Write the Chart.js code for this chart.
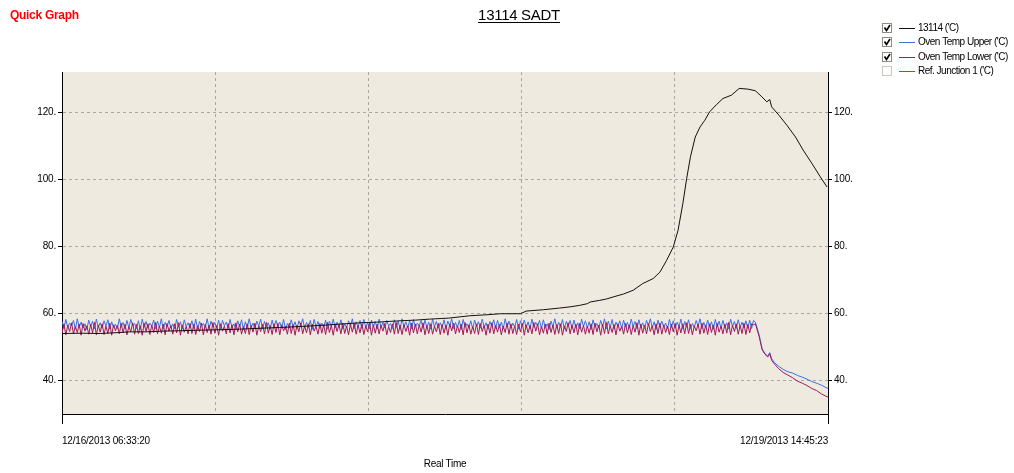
<!DOCTYPE html>
<html>
<head>
<meta charset="utf-8">
<title>13114 SADT</title>
<script src="https://cdn.jsdelivr.net/npm/chart.js@4/dist/chart.umd.min.js"></script>
<style>
  html, body { margin: 0; padding: 0; background: #ffffff; }
  canvas { display: block; }
</style>
</head>
<body>
<canvas id="quickGraph" width="1014" height="473"></canvas>
<script>
// Series names, as in the legend
const seriesNames = ["13114 ('C)", "Oven Temp Upper ('C)", "Oven Temp Lower ('C)", "Ref. Junction 1 ('C)"];
const seriesShown = [true, true, true, false];
const seriesColors = ['#111111', '#3f6ee8', '#a01a5e', '#ff2020'];

// Time axis (hours since start of run) and its two end labels
const startLabel = '12/16/2013 06:33:20';
const endLabel = '12/19/2013 14:45:23';
const runHours = 80.2;

// Y axis tick values
const yTicks = [40, 60, 80, 100, 120];

// 13114 sample temperature
const blackTimes = [
  0, 2, 4, 6, 7.1, 9, 10.3, 12, 14.4, 16,
  18.6, 21, 22.8, 25, 27, 29, 31.2, 33, 35.4, 37,
  38.5, 40.5, 42.7, 44.5, 45.9, 48.0, 48.6, 50.4, 52.1, 53.3,
  54.2, 55.0, 55.3, 56.3, 57.0, 57.7, 58.8, 59.8, 60.8, 61.9,
  62.6, 63.3, 64.0, 64.5, 65.0, 65.4, 65.8, 66.3, 66.8, 67.3,
  67.8, 68.5, 69.2, 70.1, 70.9, 71.8, 72.6, 73.2, 73.8, 74.1,
  74.3, 75.1, 75.9, 76.8, 77.6, 78.5, 79.4, 80.1
];
const blackValues = [
  54.0, 54.1, 54.0, 54.3, 54.5, 54.5, 54.7, 54.8, 55.0, 55.1,
  55.3, 55.6, 55.8, 56.1, 56.4, 56.8, 57.2, 57.4, 57.8, 58.0,
  58.3, 58.6, 59.3, 59.6, 59.9, 59.9, 60.7, 61.1, 61.6, 62.0,
  62.4, 62.9, 63.4, 63.9, 64.3, 64.9, 65.8, 66.9, 68.9, 70.4,
  72.3, 75.8, 79.8, 84.8, 92.7, 100.2, 106.7, 112.6, 115.6, 117.6,
  120.1, 122.2, 124.1, 125.1, 127.1, 126.9, 126.4, 124.8, 123.1, 123.8,
  121.6, 119.0, 116.1, 112.6, 108.7, 104.8, 100.7, 97.7
];

// Oven temps while the oven is holding (one logged sample every logInterval hours)
const logInterval = 0.2;
const upperPlateau = [
  57.6, 55.5, 58.2, 55.9, 57.1, 56.3, 57.9, 55.3, 58.4, 55.8, 57.4, 55.6, 56.9, 55.2, 58.0, 56.1, 57.7, 55.4, 58.3, 55.9,
  57.2, 55.6, 57.8, 56.2, 58.1, 55.3, 57.5, 55.8, 56.8, 55.5, 58.4, 56.0, 57.3, 55.4, 57.9, 55.7, 58.2, 56.3, 57.0, 55.5,
  57.8, 55.2, 58.3, 55.9, 57.6, 55.6, 57.1, 56.2, 58.0, 55.4, 57.7, 55.8, 58.4, 55.3, 57.3, 56.0, 57.9, 55.6, 56.9, 55.4,
  58.2, 55.9, 57.5, 55.3, 58.1, 56.1, 57.2, 55.7, 57.8, 55.5, 58.3, 55.2, 57.6, 56.2, 57.0, 55.8, 58.4, 55.4, 57.7, 55.9,
  57.3, 55.6, 58.0, 55.3, 57.9, 56.3, 57.4, 55.5, 58.2, 55.8, 56.9, 55.4, 57.8, 56.0, 58.1, 55.2, 57.5, 55.7, 58.4, 55.9,
  57.1, 55.5, 57.7, 56.2, 58.3, 55.4, 57.6, 55.9, 57.2, 55.3, 58.0, 55.8, 57.9, 56.1, 57.4, 55.6, 58.2, 55.2, 57.0, 55.7,
  58.1, 55.9, 57.5, 55.4, 57.8, 56.3, 58.4, 55.6, 57.3, 55.8, 57.9, 55.2, 58.2, 56.0, 57.6, 55.5, 57.1, 55.9, 58.0, 55.3,
  57.7, 56.1, 58.3, 55.6, 57.4, 55.8, 58.1, 55.3, 56.9, 55.7, 57.8, 56.2, 58.4, 55.4, 57.5, 55.9, 57.9, 55.5, 58.2, 55.8,
  57.2, 55.4, 58.0, 56.0, 57.6, 55.3, 58.3, 55.9, 57.3, 55.6, 57.9, 56.2, 57.0, 55.5, 58.1, 55.8, 57.7, 55.2, 58.4, 56.1,
  57.5, 55.7, 57.8, 55.4, 58.2, 55.9, 57.1, 56.3, 57.9, 55.5, 58.0, 55.8, 57.4, 55.3, 58.3, 56.0, 57.6, 55.6, 57.2, 55.9,
  58.1, 55.4, 57.7, 56.2, 58.4, 55.5, 57.3, 55.8, 57.9, 55.2, 58.2, 56.0, 56.9, 55.7, 57.8, 55.4, 58.0, 56.1, 57.5, 55.6,
  58.3, 55.9, 57.2, 55.3, 57.6, 56.2, 58.1, 55.5, 57.9, 55.8, 57.4, 55.4, 58.4, 56.0, 57.7, 55.6, 57.1, 55.9, 58.2, 55.3,
  57.8, 56.1, 58.0, 55.7, 57.5, 55.4, 58.3, 55.9, 57.3, 56.3, 57.9, 55.5, 58.1, 55.8, 56.9, 55.2, 57.7, 56.0, 58.4, 55.6,
  57.4, 55.9, 58.2, 55.3, 57.6, 56.2, 57.9, 55.5, 58.0, 55.8, 57.2, 55.4, 58.3, 56.1, 57.8, 55.7, 57.5, 55.2, 58.1, 55.9,
  57.0, 55.6, 57.9, 56.0, 58.4, 55.4, 57.7, 55.8, 58.2, 55.3, 57.4, 56.2, 57.8, 55.5, 58.0, 55.9, 57.3, 55.6, 58.3, 56.1,
  57.6, 55.4, 58.1, 55.8, 57.2, 55.5, 57.9, 56.3, 58.4, 55.7, 57.5, 55.2, 58.0, 55.9, 57.7, 56.0, 57.1, 55.4, 58.2, 55.8,
  57.8, 55.6, 57.4, 56.1, 58.3, 55.3, 57.6, 55.9, 58.1, 55.5, 57.0, 55.8, 57.9, 56.2, 58.4, 55.4, 57.3, 55.7, 58.0, 55.9,
  57.5, 55.3, 58.2, 56.0, 57.7, 55.6, 57.9, 55.8, 57.2, 55.4, 58.3, 56.1, 57.6, 55.5, 58.1, 55.9, 57.4, 55.7, 57.8, 55.6,
  58.0, 55.5, 57.9, 57.4
];
const lowerPlateau = [
  54.1, 56.9, 53.6, 56.4, 54.6, 57.2, 53.9, 56.1, 54.3, 56.8, 53.5, 57.0, 54.7, 56.3, 53.8, 56.7, 54.2, 57.3, 53.6, 56.5,
  54.4, 56.9, 53.7, 56.2, 54.0, 57.1, 53.5, 56.6, 54.8, 56.4, 53.9, 57.0, 54.2, 56.8, 53.6, 56.1, 54.5, 57.2, 53.8, 56.7,
  54.0, 56.3, 53.5, 57.1, 54.6, 56.9, 53.7, 56.5, 54.3, 57.3, 53.9, 56.2, 54.1, 56.8, 53.6, 57.0, 54.7, 56.4, 53.8, 56.9,
  54.2, 57.2, 53.5, 56.6, 54.4, 56.1, 53.9, 57.0, 54.0, 56.8, 53.7, 56.3, 54.6, 57.1, 53.6, 56.7, 54.3, 56.5, 53.8, 57.3,
  54.1, 56.4, 53.5, 56.9, 54.7, 56.2, 53.9, 57.0, 54.2, 56.6, 53.6, 57.2, 54.5, 56.8, 53.8, 56.1, 54.0, 56.9, 53.7, 56.5,
  54.4, 57.1, 53.5, 56.3, 54.6, 56.8, 53.9, 57.3, 54.1, 56.4, 53.7, 56.9, 54.3, 57.0, 53.6, 56.6, 54.8, 56.2, 53.8, 57.1,
  54.0, 56.7, 53.5, 56.5, 54.5, 57.2, 53.9, 56.3, 54.2, 56.9, 53.6, 56.8, 54.7, 56.1, 53.8, 57.0, 54.1, 56.6, 53.7, 57.3,
  54.3, 56.4, 53.5, 56.9, 54.6, 56.7, 53.9, 57.1, 54.0, 56.2, 53.6, 56.8, 54.4, 57.0, 53.8, 56.5, 54.2, 56.9, 53.7, 56.3,
  54.5, 57.2, 53.5, 56.6, 54.1, 56.8, 53.9, 56.4, 54.7, 57.0, 53.6, 56.1, 54.3, 56.9, 53.8, 57.3, 54.0, 56.5, 53.7, 56.7,
  54.6, 56.3, 53.5, 57.1, 54.2, 56.8, 53.9, 56.6, 54.4, 57.2, 53.6, 56.4, 54.0, 56.9, 53.8, 56.2, 54.5, 57.0, 53.7, 56.7,
  54.1, 56.5, 53.5, 56.9, 54.8, 57.1, 53.9, 56.3, 54.3, 56.8, 53.6, 57.3, 54.2, 56.6, 53.8, 56.1, 54.0, 56.9, 53.7, 57.0,
  54.6, 56.4, 53.5, 56.8, 54.1, 57.2, 53.9, 56.5, 54.4, 56.7, 53.6, 56.2, 54.3, 57.1, 53.8, 56.9, 54.0, 56.3, 53.7, 56.8,
  54.5, 57.0, 53.5, 56.6, 54.2, 56.4, 53.9, 57.3, 54.7, 56.9, 53.6, 56.1, 54.1, 56.8, 53.8, 57.1, 54.3, 56.5, 53.7, 56.7,
  54.0, 56.9, 53.5, 56.3, 54.6, 57.2, 53.9, 56.6, 54.2, 56.8, 53.6, 57.0, 54.4, 56.4, 53.8, 56.2, 54.1, 56.9, 53.7, 57.1,
  54.5, 56.5, 53.5, 56.8, 54.0, 57.3, 53.9, 56.3, 54.3, 56.7, 53.6, 56.9, 54.7, 56.1, 53.8, 57.0, 54.2, 56.6, 53.7, 56.4,
  54.4, 57.2, 53.5, 56.8, 54.1, 56.5, 53.9, 57.0, 54.6, 56.3, 53.6, 56.9, 54.0, 57.1, 53.8, 56.6, 54.3, 56.2, 53.7, 56.8,
  54.5, 57.0, 53.5, 56.4, 54.2, 56.9, 53.9, 57.2, 54.0, 56.7, 53.6, 56.3, 54.8, 56.8, 53.8, 57.1, 54.1, 56.5, 53.7, 56.9,
  54.3, 56.6, 53.5, 57.0, 54.4, 56.2, 53.9, 56.8, 54.1, 57.3, 53.6, 56.5, 54.6, 56.9, 53.8, 56.4, 54.0, 57.1, 53.7, 56.7,
  54.2, 56.9, 56.6, 56.9
];

// Oven temps after the oven was switched off
const tailTimes = [73.0, 73.3, 73.6, 73.9, 74.1, 74.3, 74.6, 75.0, 75.5, 76.0, 76.5, 77.0, 77.5, 78.0, 78.5, 79.0, 79.5, 80.2];
const upperTail = [53.5, 49.5, 48.0, 47.3, 48.3, 46.5, 45.3, 44.3, 43.3, 42.6, 42.2, 41.5, 41.0, 40.4, 39.7, 39.2, 38.6, 37.6];
const lowerTail = [53.0, 49.2, 47.8, 47.0, 48.0, 46.0, 44.9, 43.6, 42.4, 41.6, 40.8, 39.8, 39.2, 38.5, 37.6, 37.0, 36.0, 35.0];

const FONT = '"Liberation Sans", Arial, sans-serif';

/**
 * Pair up time and value arrays as {x, y} points
 */
function toPoints(times, values) {
  return values.map((v, i) => ({ x: times[i], y: v }));
}

const plateauTimes = upperPlateau.map((_, i) => i * logInterval);
const ovenTimes = plateauTimes.concat(tailTimes);

/**
 * Plot background, title, axis title and the check-box legend
 */
const framePlugin = {
  id: 'frame',
  beforeDraw(chart) {
    const { ctx, chartArea } = chart;
    // the original uses a narrow bitmap font, tighten letters a bit
    ctx.letterSpacing = '-0.2px';
    ctx.save();
    ctx.fillStyle = '#eeeadf';
    ctx.fillRect(chartArea.left, chartArea.top, chartArea.right - chartArea.left, chartArea.bottom - chartArea.top);
    ctx.restore();
  },
  afterDraw(chart) {
    const { ctx, chartArea } = chart;
    ctx.save();

    // "Quick Graph" label
    ctx.fillStyle = '#ff0000';
    ctx.font = 'bold 12px ' + FONT;
    ctx.textBaseline = 'middle';
    ctx.textAlign = 'left';
    ctx.letterSpacing = '-0.3px';
    ctx.fillText('Quick Graph', 10, 16);

    // Underlined title
    ctx.fillStyle = '#000';
    ctx.font = '15px ' + FONT;
    ctx.textAlign = 'center';
    ctx.textBaseline = 'alphabetic';
    const title = '13114 SADT';
    const tw = ctx.measureText(title).width;
    ctx.fillText(title, 519, 20);
    ctx.fillRect(Math.round(519 - tw / 2), 22, Math.round(tw), 1);

    // X axis title
    ctx.font = '10px ' + FONT;
    ctx.textBaseline = 'middle';
    ctx.fillText('Real Time', (chartArea.left + chartArea.right) / 2, 464);

    // Legend with check boxes
    ctx.textAlign = 'left';
    ctx.letterSpacing = '-0.5px';
    seriesNames.forEach((name, i) => {
      const y = Math.round(28 + i * 14.3) + 0.5;
      ctx.fillStyle = '#ffffff';
      ctx.fillRect(882.5, y - 5, 9, 9);
      ctx.strokeStyle = seriesShown[i] ? '#8c8c84' : '#c8c8c0';
      ctx.lineWidth = 1;
      ctx.strokeRect(882.5, y - 5, 9, 9);
      if (seriesShown[i]) {
        ctx.strokeStyle = '#000';
        ctx.lineWidth = 1.6;
        ctx.beginPath();
        ctx.moveTo(884.5, y - 1);
        ctx.lineTo(886.5, y + 2);
        ctx.lineTo(890, y - 3.5);
        ctx.stroke();
      }
      ctx.strokeStyle = seriesColors[i];
      ctx.lineWidth = 1;
      ctx.beginPath();
      ctx.moveTo(899, y);
      ctx.lineTo(915, y);
      ctx.stroke();
      ctx.fillStyle = '#000';
      ctx.fillText(name, 918, y);
    });
    ctx.restore();
  }
};

const ctx = document.getElementById('quickGraph').getContext('2d');
const tickFont = { family: FONT, size: 10 };

/**
 * Shared y axis options (left and right copies)
 */
function yAxis(position, onChart) {
  return {
    type: 'linear',
    position: position,
    min: 30,
    max: 132,
    afterBuildTicks: scale => { scale.ticks = yTicks.map(v => ({ value: v })); },
    afterFit: scale => { scale.width = position === 'left' ? 62 : 186; },
    ticks: {
      color: '#000',
      font: tickFont,
      padding: 2,
      callback: v => v + '.'
    },
    grid: {
      drawOnChartArea: onChart,
      color: '#a8a8a0',
      tickColor: '#000',
      tickLength: 4
    },
    border: { display: true, color: '#000', width: 1, dash: [3, 3] }
  };
}

new Chart(ctx, {
  type: 'line',
  data: {
    datasets: [
      {
        label: seriesNames[0],
        data: toPoints(blackTimes, blackValues),
        borderColor: seriesColors[0],
        borderWidth: 1,
        yAxisID: 'y'
      },
      {
        label: seriesNames[2],
        data: toPoints(ovenTimes, lowerPlateau.concat(lowerTail)),
        borderColor: seriesColors[2],
        borderWidth: 1,
        yAxisID: 'y'
      },
      {
        label: seriesNames[1],
        data: toPoints(ovenTimes, upperPlateau.concat(upperTail)),
        borderColor: seriesColors[1],
        borderWidth: 1,
        yAxisID: 'y'
      },
      {
        label: seriesNames[3],
        data: [],
        borderColor: seriesColors[3],
        borderWidth: 1,
        hidden: true,
        yAxisID: 'y'
      }
    ]
  },
  options: {
    responsive: false,
    animation: false,
    events: [],
    layout: { padding: { top: 72, left: 0, right: 0, bottom: 0 } },
    elements: { point: { radius: 0 }, line: { tension: 0 } },
    plugins: {
      legend: { display: false },
      title: { display: false },
      tooltip: { enabled: false }
    },
    scales: {
      x: {
        type: 'linear',
        min: 0,
        max: runHours,
        afterBuildTicks: scale => {
          scale.ticks = [0, 1, 2, 3, 4, 5].map(i => ({ value: i * runHours / 5 }));
        },
        afterFit: scale => { scale.height = 59; },
        ticks: {
          autoSkip: false,
          maxRotation: 0,
          align: 'inner',
          color: '#000',
          font: tickFont,
          padding: 11,
          callback: (v, i, ticks) => i === 0 ? startLabel : (i === ticks.length - 1 ? endLabel : '')
        },
        grid: {
          color: c => (c.index === 0 || c.index === 5) ? 'rgba(0,0,0,0)' : '#a8a8a0',
          tickColor: c => (c.index === 0 || c.index === 5) ? '#000' : 'rgba(0,0,0,0)',
          tickLength: 10
        },
        border: { display: true, color: '#000', width: 1, dash: [3, 3] }
      },
      y: yAxis('left', true),
      yRight: yAxis('right', false)
    }
  },
  plugins: [framePlugin]
});
</script>
</body>
</html>
